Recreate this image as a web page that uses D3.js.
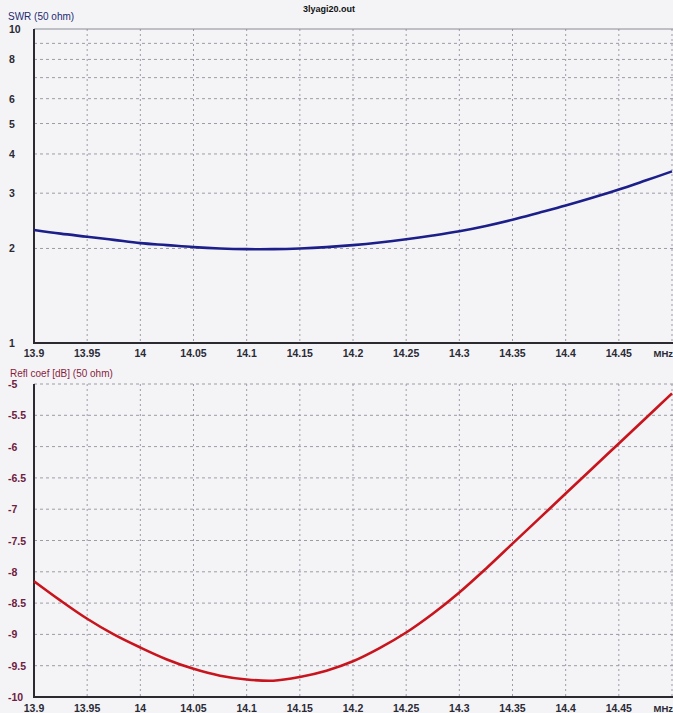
<!DOCTYPE html>
<html><head><meta charset="utf-8">
<script src="https://cdn.jsdelivr.net/npm/d3@7"></script>
<style>
html,body{margin:0;padding:0;background:#f4f4f7;}
svg{display:block;font-family:Arial,"Liberation Sans",sans-serif;}
</style></head><body>
<svg id="c" width="673" height="713"></svg>
<script>
const title = "3lyagi20.out";
const freq = [13.9,13.925,13.95,13.975,14.0,14.025,14.05,14.075,14.1,14.125,14.15,14.175,14.2,14.225,14.25,14.275,14.3,14.325,14.35,14.375,14.4,14.425,14.45,14.475,14.5];
const swr = [2.29,2.23,2.18,2.13,2.08,2.05,2.02,2.0,1.99,1.99,2.0,2.02,2.05,2.09,2.14,2.2,2.27,2.36,2.47,2.6,2.74,2.9,3.08,3.29,3.52];
const refl = [-8.15,-8.46,-8.75,-9.0,-9.21,-9.40,-9.55,-9.66,-9.72,-9.74,-9.68,-9.58,-9.43,-9.22,-8.97,-8.67,-8.33,-7.95,-7.55,-7.15,-6.75,-6.35,-5.95,-5.55,-5.15];
const xTicks = [13.9,13.95,14,14.05,14.1,14.15,14.2,14.25,14.3,14.35,14.4,14.45];
const xTickLabels = ["13.9","13.95","14","14.05","14.1","14.15","14.2","14.25","14.3","14.35","14.4","14.45"];
const swrGrid = [2,3,4,5,6,7,8,9];
const swrLabels = [1,2,3,4,5,6,8,10];
const reflTicks = [-5,-5.5,-6,-6.5,-7,-7.5,-8,-8.5,-9,-9.5,-10];

const svg = d3.select("#c");
const x = d3.scaleLinear().domain([13.9,14.5]).range([34,672]);
const y1 = d3.scaleLog().domain([1,10]).range([343,29]);
const y2 = d3.scaleLinear().domain([-10,-5]).range([697,384]);

const gridCol = "#9c9ca6";
function vgrid(top,bottom){
  svg.append("g").selectAll("line").data(xTicks.slice(1).concat([14.5])).join("line")
    .attr("x1",d=>x(d)).attr("x2",d=>x(d)).attr("y1",top).attr("y2",bottom)
    .attr("stroke",gridCol).attr("stroke-width",1).attr("stroke-dasharray","2,3");
}
vgrid(29,343);
svg.append("g").selectAll("line").data(swrGrid).join("line")
  .attr("x1",34).attr("x2",673).attr("y1",d=>y1(d)).attr("y2",d=>y1(d))
  .attr("stroke",gridCol).attr("stroke-dasharray","3,3");
svg.append("line").attr("x1",34).attr("x2",673).attr("y1",y1(10)).attr("y2",y1(10))
  .attr("stroke","#8a8a95").attr("stroke-width",1.2);
vgrid(384,697);
svg.append("g").selectAll("line").data(reflTicks.filter(d=>d>-10)).join("line")
  .attr("x1",34).attr("x2",673).attr("y1",d=>y2(d)).attr("y2",d=>y2(d))
  .attr("stroke",gridCol).attr("stroke-dasharray","3,3");

function axes(top,bottom){
  svg.append("line").attr("x1",34).attr("x2",34).attr("y1",top).attr("y2",bottom+1)
    .attr("stroke","#2a2a30").attr("stroke-width",2);
  svg.append("line").attr("x1",33).attr("x2",673).attr("y1",bottom).attr("y2",bottom)
    .attr("stroke","#2a2a30").attr("stroke-width",2);
}
axes(29,343);
axes(384,697);

const lineSwr = d3.line().x((d,i)=>x(freq[i])).y(d=>y1(d)).curve(d3.curveCatmullRom.alpha(0.5));
svg.append("path").datum(swr).attr("d",lineSwr).attr("fill","none")
  .attr("stroke","#1c1f8a").attr("stroke-width",2.6);
const lineRefl = d3.line().x((d,i)=>x(freq[i])).y(d=>y2(d)).curve(d3.curveCatmullRom.alpha(0.5));
svg.append("path").datum(refl).attr("d",lineRefl).attr("fill","none")
  .attr("stroke","#c8141c").attr("stroke-width",2.6);

const tickFill = "#2a2a35";
function xLabels(yPos){
  svg.append("g").selectAll("text").data(xTicks).join("text")
    .attr("x",d=>x(d)).attr("y",yPos).attr("text-anchor","middle")
    .attr("font-size","10.5px").attr("font-weight","bold").attr("fill",tickFill)
    .text((d,i)=>xTickLabels[i]);
  svg.append("text").attr("x",673).attr("y",yPos).attr("text-anchor","end")
    .attr("font-size","9.5px").attr("font-weight","bold").attr("fill",tickFill).text("MHz");
}
xLabels(357);
xLabels(712);

svg.append("g").selectAll("text").data(swrLabels).join("text")
  .attr("x",9).attr("y",d=>y1(d)+4).attr("font-size","10.5px")
  .attr("font-weight","bold").attr("fill",tickFill).text(d=>d);
svg.append("g").selectAll("text").data(reflTicks).join("text")
  .attr("x",8).attr("y",d=>y2(d)+4).attr("font-size","10.5px").attr("font-weight","bold")
  .attr("fill","#6e2040").text(d=>d);

svg.append("text").attr("x",8).attr("y",20).attr("font-size","10px")
  .attr("fill","#1c2a70").text("SWR (50 ohm)");
svg.append("text").attr("x",10).attr("y",377).attr("font-size","10px")
  .attr("fill","#8a1c3c").text("Refl coef [dB] (50 ohm)");
svg.append("text").attr("x",329).attr("y",12).attr("text-anchor","middle")
  .attr("font-size","9px").attr("font-weight","bold").attr("fill","#111").text(title);
</script>
</body></html>
